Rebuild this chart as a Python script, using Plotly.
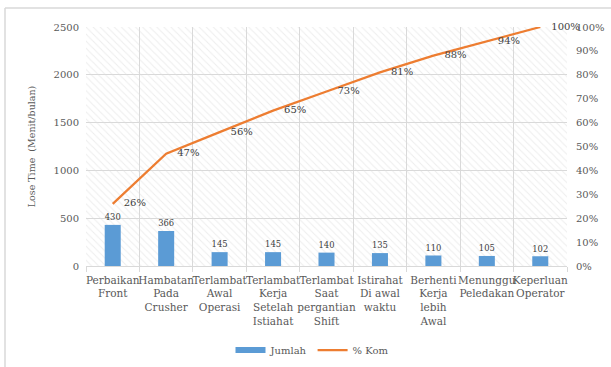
import plotly.graph_objects as go

# Lost-time causes (Pareto)
kategori = [
    "Perbaikan<br>Front",
    "Hambatan<br>Pada<br>Crusher",
    "Terlambat<br>Awal<br>Operasi",
    "Terlambat<br>Kerja<br>Setelah<br>Istiahat",
    "Terlambat<br>Saat<br>pergantian<br>Shift",
    "Istirahat<br>Di awal<br>waktu",
    "Berhenti<br>Kerja<br>lebih<br>Awal",
    "Menunggu<br>Peledakan",
    "Keperluan<br>Operator",
]
jumlah = [430, 366, 145, 145, 140, 135, 110, 105, 102]
persen_kom = [0.26, 0.47, 0.56, 0.65, 0.73, 0.81, 0.88, 0.94, 1.00]
label_kom = ["26%", "47%", "56%", "65%", "73%", "81%", "88%", "94%", "100%"]

BLUE = "#5b9bd5"
ORANGE = "#ed7d31"
GRID = "#d9d9d9"
TXT = "#595959"
FONT = "DejaVu Serif"
FS = 10

W, H = 611, 367
ML, MR, MT, MB = 86, 44, 27, 101
PW, PH = W - ML - MR, H - MT - MB


def px_x(x):
    return (x - ML) / PW


def px_y(y):
    return (H - MB - y) / PH


fig = go.Figure()

# hatched plot-area fill
fig.add_trace(go.Bar(
    x=[0.5], y=[1], width=[1], xaxis="x", yaxis="y",
    marker=dict(color="rgba(0,0,0,0)", line=dict(width=0),
                pattern=dict(shape="\\", fgcolor="#dcdcdc", bgcolor="rgba(0,0,0,0)",
                             size=5, solidity=0.2, fillmode="overlay")),
    hoverinfo="skip", showlegend=False,
))

fig.add_trace(go.Bar(
    x=kategori, y=jumlah, xaxis="x2", yaxis="y2", name="Jumlah",
    marker=dict(color=BLUE, line=dict(width=0)), width=0.3,
    text=[str(v) for v in jumlah], textposition="outside", cliponaxis=False,
    textfont=dict(family=FONT, size=FS, color="#404040"),
    showlegend=False,
))

# legend key for the bars
fig.add_trace(go.Scatter(
    x=[None], y=[None], xaxis="x2", yaxis="y2", name="Jumlah",
    mode="lines", line=dict(color=BLUE, width=6),
))

fig.add_trace(go.Scatter(
    x=kategori, y=persen_kom, xaxis="x2", yaxis="y3", name="% Kom",
    mode="lines+markers+text", line=dict(color=ORANGE, width=2.25),
    marker=dict(size=16, color="rgba(0,0,0,0)"),
    text=label_kom, textposition="middle right", cliponaxis=False,
    textfont=dict(family=FONT, size=FS, color="#404040"),
))

tickfont = dict(family=FONT, size=FS, color=TXT)

fig.update_layout(
    width=W, height=H,
    margin=dict(l=ML, r=MR, t=MT, b=MB, autoexpand=False),
    paper_bgcolor="white", plot_bgcolor="white",
    font=dict(family=FONT, size=FS, color=TXT),
    barmode="overlay",
    xaxis=dict(visible=False, range=[0, 1], fixedrange=True),
    yaxis=dict(visible=False, range=[0, 1], fixedrange=True),
    xaxis2=dict(
        overlaying="x", anchor="y2", type="category", range=[-0.5, 8.5],
        tickson="boundaries", showgrid=True, gridcolor=GRID, gridwidth=1,
        ticks="outside", ticklen=5, tickcolor=GRID, tickangle=0,
        showline=True, linecolor=GRID, linewidth=1,
        tickfont=dict(family=FONT, size=10.5, color=TXT),
        ticklabelstandoff=4, automargin=False,
    ),
    yaxis2=dict(
        overlaying="y", anchor="x2", side="left", range=[0, 2500], dtick=500,
        showgrid=True, gridcolor=GRID, gridwidth=1, zeroline=False, showline=False,
        tickfont=tickfont, ticklabelstandoff=6, automargin=False,
        title=dict(text="Lose Time\u00a0 (Menit/bulan)",
                   font=dict(family=FONT, size=9.5, color=TXT), standoff=16),
    ),
    yaxis3=dict(
        overlaying="y", anchor="x2", side="right", range=[0, 1], dtick=0.1,
        tickformat=".0%", showgrid=False, zeroline=False, showline=False,
        tickfont=tickfont, ticklabelstandoff=8, automargin=False,
    ),
    legend=dict(
        orientation="h", x=px_x(312), xanchor="center", y=px_y(350), yanchor="middle",
        font=dict(family=FONT, size=FS, color=TXT), itemwidth=30,
        bgcolor="rgba(0,0,0,0)",
    ),
    shapes=[
        dict(type="line", xref="paper", yref="paper", layer="below",
             x0=px_x(5), x1=px_x(W), y0=px_y(8), y1=px_y(8),
             line=dict(color=GRID, width=1.5)),
        dict(type="line", xref="paper", yref="paper", layer="below",
             x0=px_x(5), x1=px_x(5), y0=px_y(8), y1=px_y(H),
             line=dict(color=GRID, width=1.5)),
    ],
)

fig.write_html("out.html")
